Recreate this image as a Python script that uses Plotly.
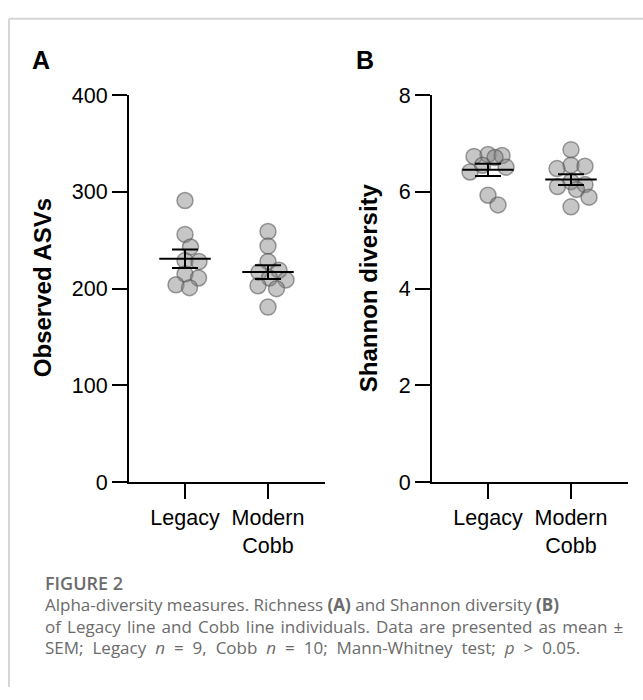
import numpy as np
import plotly.graph_objects as go

# ---------------- data ----------------
groups = ["Legacy", "Modern Cobb"]
tick_text = ["Legacy", "Modern<br>Cobb"]
observed_legacy = [291, 256, 243, 229, 228, 215, 211, 204, 201]
observed_cobb = [259, 244, 228, 219, 217, 211, 209, 203, 200, 181]
shannon_legacy = [6.77, 6.75, 6.73, 6.71, 6.55, 6.51, 6.41, 5.93, 5.73]
shannon_cobb = [6.87, 6.55, 6.53, 6.48, 6.21, 6.15, 6.11, 6.05, 5.89, 5.69]
y_ticks_a = [0, 100, 200, 300, 400]
y_ticks_b = [0, 2, 4, 6, 8]

# ---------------- layout geometry (px) ----------------
W, H = 643, 700
XA = (129, 325)
XB = (432, 628)
Y_TOP, Y_BOT = 87, 488
X_RANGE = [-0.675, 1.687]
PX_PER_X = (XA[1] - XA[0]) / (X_RANGE[1] - X_RANGE[0])
PLOT_H = Y_BOT - Y_TOP


def swarm(vals, px_per_val, d=14.0, w=18.0):
    """Beeswarm offsets (in x data units) computed from the values."""
    vals = list(vals)
    order = sorted(range(len(vals)), key=lambda i: -vals[i])
    cands = np.arange(-w, w + 0.01, 0.5)
    cands = sorted(cands, key=lambda c: (abs(c), -c))
    placed = []
    offs = [0.0] * len(vals)
    for i in order:
        y = vals[i] * px_per_val
        chosen, best_c, best_s = None, 0.0, -1.0
        for c in cands:
            md = min([np.hypot(c - px, y - py) for px, py in placed] or [1e9])
            if md >= d:
                chosen = c
                break
            if md > best_s:
                best_s, best_c = md, c
        if chosen is None:
            chosen = best_c
        offs[i] = chosen
        placed.append((chosen, y))
    return [o / PX_PER_X for o in offs]


marker = dict(size=16, color="rgba(128,128,128,0.45)",
              line=dict(color="rgba(80,80,80,0.55)", width=1.5))

fig = go.Figure()

panels = [
    ("x", "y", [observed_legacy, observed_cobb], PLOT_H / 400.0),
    ("x2", "y2", [shannon_legacy, shannon_cobb], PLOT_H / 8.0),
]

for xa, ya, series, ppv in panels:
    for gi, vals in enumerate(series):
        offs = swarm(vals, ppv)
        fig.add_trace(go.Scatter(
            x=[gi + o for o in offs], y=vals, mode="markers",
            marker=marker, xaxis=xa, yaxis=ya, showlegend=False,
            name=groups[gi], hoverinfo="y"))
    for gi, vals in enumerate(series):
        arr = np.array(vals, dtype=float)
        mean = arr.mean()
        sem = arr.std(ddof=1) / np.sqrt(len(arr))
        fig.add_trace(go.Scatter(
            x=[gi - 0.31, gi + 0.31], y=[mean, mean], mode="lines",
            line=dict(color="black", width=2), xaxis=xa, yaxis=ya,
            showlegend=False, hoverinfo="skip"))
        fig.add_trace(go.Scatter(
            x=[gi], y=[mean], mode="markers", marker=dict(size=1, opacity=0),
            error_y=dict(type="data", array=[sem], color="black",
                         thickness=2, width=13),
            xaxis=xa, yaxis=ya, showlegend=False, hoverinfo="skip"))

font_ax = dict(family="Liberation Sans, Arial, sans-serif", size=21.5, color="black")

common_x = dict(range=X_RANGE, tickvals=[0, 1], ticktext=tick_text,
                showline=True, linecolor="black", linewidth=2,
                ticks="outside", ticklen=15, tickwidth=2, tickcolor="black",
                showgrid=False, zeroline=False, tickfont=font_ax, fixedrange=True)
common_y = dict(showline=True, linecolor="black", linewidth=2,
                ticks="outside", ticklen=15, tickwidth=2, tickcolor="black",
                showgrid=False, zeroline=False, tickfont=font_ax,
                domain=[(H - Y_BOT) / H, (H - Y_TOP) / H], fixedrange=True)

fig.update_layout(
    width=W, height=H, margin=dict(l=0, r=0, t=0, b=0),
    paper_bgcolor="white", plot_bgcolor="white",
    xaxis=dict(domain=[XA[0] / W, XA[1] / W], anchor="y", **common_x),
    xaxis2=dict(domain=[XB[0] / W, XB[1] / W], anchor="y2", **common_x),
    yaxis=dict(anchor="x", range=[0, 400], tickvals=y_ticks_a, **common_y),
    yaxis2=dict(anchor="x2", range=[0, 8], tickvals=y_ticks_b, **common_y),
    showlegend=False,
)

# figure frame (light grey border, top and left)
border = dict(color="#d6d6d6", width=2)
fig.add_shape(type="line", xref="paper", yref="paper",
              x0=9 / W, x1=1.0, y0=1 - 8 / H, y1=1 - 8 / H, line=border)
fig.add_shape(type="line", xref="paper", yref="paper",
              x0=9 / W, x1=9 / W, y0=0.0, y1=1 - 8 / H, line=border)

bold_font = dict(family="Liberation Sans, Arial, sans-serif", size=25, color="black")
title_font = dict(family="Liberation Sans, Arial, sans-serif", size=24, color="black")


def ann(text, x, y, font, **kw):
    fig.add_annotation(text=text, x=x / W, y=1 - y / H, xref="paper", yref="paper",
                       showarrow=False, font=font, **kw)


ann("<b>A</b>", 41, 51, bold_font, xanchor="center", yanchor="middle")
ann("<b>B</b>", 365, 51, bold_font, xanchor="center", yanchor="middle")
ann("<b>Observed ASVs</b>", 42, 287, title_font, textangle=-90,
    xanchor="center", yanchor="middle")
ann("<b>Shannon diversity</b>", 368, 287, title_font, textangle=-90,
    xanchor="center", yanchor="middle")

cap_color = "#6b6b6b"
ann("FIGURE 2", 43, 592, dict(family="Open Sans", size=18, color=cap_color, weight=600),
    xanchor="left", yanchor="middle")
cap_font = dict(family="Open Sans", size=17, color=cap_color)
sp2 = " \u200a"          # slightly widened word space (justified look)
sp3 = " \u2009\u200a"    # wider word space
line2 = sp2.join("of Legacy line and Cobb line individuals. Data are presented as mean ±".split(" "))
line3 = sp3.join("SEM; Legacy <i>n</i> = 9, Cobb <i>n</i> = 10; Mann-Whitney test; <i>p</i> > 0.05.".split(" "))
caption_lines = [
    "Alpha-diversity measures. Richness <b>(A)</b> and Shannon diversity <b>(B)</b>",
    line2,
    line3,
]
for k, line in enumerate(caption_lines):
    ann(line, 43, 615 + 22 * k, cap_font, xanchor="left", yanchor="middle")

fig.write_html("out.html")
